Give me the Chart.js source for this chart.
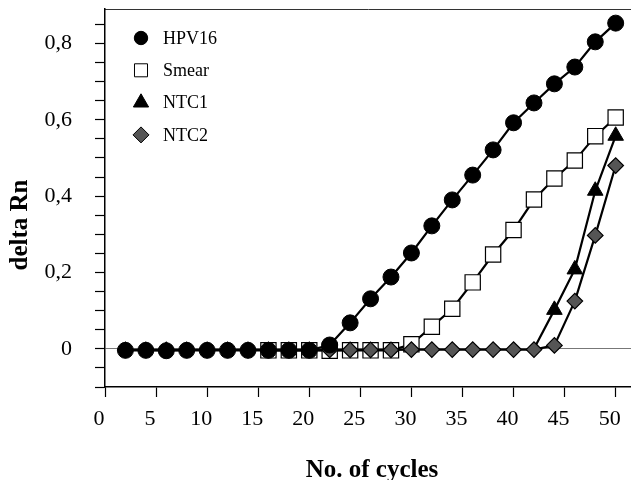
<!DOCTYPE html>
<html>
<head>
<meta charset="utf-8">
<script src="https://cdn.jsdelivr.net/npm/chart.js@4/dist/chart.umd.min.js"></script>
<style>
  html, body { margin: 0; padding: 0; background: #fff; }
  #wrap { width: 631px; height: 480px; }
</style>
</head>
<body>
<div id="wrap"><canvas id="chart" width="631" height="480"></canvas></div>
<script>
  'use strict';

  // PCR cycles
  var cycles = [2, 4, 6, 8, 10, 12, 14, 16, 18, 20, 22, 24, 26, 28, 30, 32, 34, 36, 38, 40, 42, 44, 46, 48, 50];

  var seriesNames = ['HPV16', 'Smear', 'NTC1', 'NTC2'];

  var hpv16 = [-0.004, -0.004, -0.005, -0.004, -0.004, -0.004, -0.004, -0.004, -0.004, -0.004,
    0.01, 0.068, 0.131, 0.188, 0.251, 0.322, 0.39, 0.455, 0.521, 0.592, 0.644, 0.694, 0.738, 0.804, 0.853];

  var smear = [null, null, null, null, null, null, null, -0.004, -0.004, -0.004,
    -0.005, -0.004, -0.004, -0.004, 0.012, 0.058, 0.105, 0.174, 0.247, 0.311, 0.391, 0.446, 0.493, 0.557, 0.606];

  var ntc1 = [null, null, null, null, null, null, null, null, null, null,
    null, null, null, null, null, null, null, null, null, null, 0, 0.102, 0.208, 0.414, 0.558];

  var ntc2 = [-0.003, -0.003, -0.003, -0.003, -0.003, -0.003, -0.003, -0.003, -0.003, -0.003,
    -0.003, -0.003, -0.003, -0.003, -0.002, -0.002, -0.002, -0.002, -0.002, -0.002, -0.002, 0.009, 0.125, 0.297, 0.48];

  var xTicks = [0, 5, 10, 15, 20, 25, 30, 35, 40, 45, 50];
  var yLabels = [0, 0.2, 0.4, 0.6, 0.8];

  var serif = '"Liberation Serif", "Times New Roman", serif';
  var legendRadius = [6.7, 9.2, 8.8, 8];

  function points(values){
    return cycles.map(function(c, i){
      return {x: c, y: values[i]};
    });
  }

  function fmtY(v){
    var k = Math.round(v * 100);
    var hit = yLabels.some(function(l){ return Math.round(l * 100) === k; });
    if (!hit) return '';
    return k === 0 ? '0' : (k / 100).toFixed(1).replace('.', ',');
  }

  function noPad(s){
    s.paddingTop = 0;
    s.paddingBottom = 0;
    s.paddingLeft = 0;
    s.paddingRight = 0;
  }

  // legend + axis titles placed like the original figure
  var figureText = {
    id: 'figureText',
    afterDraw: function(chart){
      var ctx = chart.ctx;
      var area = chart.chartArea;
      ctx.save();
      seriesNames.forEach(function(name, i){
        var ds = chart.data.datasets[i];
        var x = area.left + 36;
        var y = area.top + 29 + i * 32.3;
        ctx.fillStyle = ds.backgroundColor;
        ctx.strokeStyle = '#000';
        ctx.lineWidth = 1;
        Chart.helpers.drawPoint(ctx, {pointStyle: ds.pointStyle, radius: legendRadius[i], rotation: 0, borderWidth: 1}, x, y);
        ctx.fillStyle = '#000';
        ctx.font = '18px ' + serif;
        ctx.textAlign = 'left';
        ctx.textBaseline = 'middle';
        ctx.fillText(name, x + 22, y + 1);
      });

      ctx.font = 'bold 25px ' + serif;
      ctx.textAlign = 'center';
      ctx.textBaseline = 'alphabetic';
      ctx.fillText('No. of cycles', 372, 477);

      ctx.translate(27, 225);
      ctx.rotate(-Math.PI / 2);
      ctx.fillText('delta Rn', 0, 0);
      ctx.restore();
    }
  };

  var config = {
    type: 'line',
    data: {
      datasets: [
        {
          label: seriesNames[0],
          data: points(hpv16),
          order: 0,
          pointStyle: 'circle',
          pointRadius: 8,
          backgroundColor: '#000',
          borderColor: '#000'
        },
        {
          label: seriesNames[1],
          data: points(smear),
          order: 3,
          pointStyle: 'rect',
          pointRadius: 10.8,
          pointBorderWidth: 1.2,
          backgroundColor: '#fff',
          borderColor: '#000'
        },
        {
          label: seriesNames[2],
          data: points(ntc1),
          order: 2,
          pointStyle: 'triangle',
          pointRadius: function(c){ return c.dataIndex === 20 ? 0 : 9; },
          backgroundColor: '#000',
          borderColor: '#000'
        },
        {
          label: seriesNames[3],
          data: points(ntc2),
          order: 1,
          pointStyle: 'rectRot',
          pointRadius: 7.8,
          pointBorderWidth: 1.2,
          backgroundColor: '#555',
          borderColor: '#000'
        }
      ]
    },
    options: {
      responsive: false,
      devicePixelRatio: 1,
      animation: false,
      layout: {autoPadding: false, padding: {top: 9, right: 0, left: 0, bottom: 0}},
      elements: {
        line: {borderWidth: 2.2, tension: 0},
        point: {borderWidth: 1, hoverRadius: 8}
      },
      plugins: {
        legend: {display: false},
        tooltip: {enabled: false}
      },
      scales: {
        x: {
          type: 'linear',
          position: 'bottom',
          min: 0,
          max: 51.5,
          afterFit: function(s){ s.height = 93; noPad(s); },
          afterBuildTicks: function(s){
            s.ticks = xTicks.map(function(v){ return {value: v}; });
          },
          ticks: {
            color: '#000',
            font: {family: serif, size: 22},
            padding: 9,
            labelOffset: -6,
            maxRotation: 0,
            autoSkip: false,
            includeBounds: false
          },
          grid: {drawOnChartArea: false, tickLength: 10, tickColor: '#000', tickWidth: 1.2},
          border: {color: '#000', width: 1.5}
        },
        x2: {
          type: 'linear',
          position: 'top',
          min: 0,
          max: 51.5,
          afterFit: function(s){ s.height = 0; noPad(s); },
          ticks: {display: false},
          grid: {display: false, drawTicks: false},
          border: {color: '#333', width: 1}
        },
        y: {
          type: 'linear',
          min: -0.1,
          max: 0.89,
          afterFit: function(s){ s.width = 105; noPad(s); },
          ticks: {
            stepSize: 0.05,
            includeBounds: false,
            autoSkip: false,
            color: '#000',
            font: {family: serif, size: 22},
            padding: 23,
            callback: fmtY
          },
          grid: {
            color: function(c){ return c.tick && Math.abs(c.tick.value) < 1e-9 ? '#777' : 'rgba(0,0,0,0)'; },
            tickColor: '#000',
            tickLength: 10,
            tickWidth: 1.2
          },
          border: {color: '#000', width: 1.5}
        }
      }
    },
    plugins: [figureText]
  };

  var ctx = document.getElementById('chart').getContext('2d');
  var myChart = new Chart(ctx, config);
</script>
</body>
</html>
